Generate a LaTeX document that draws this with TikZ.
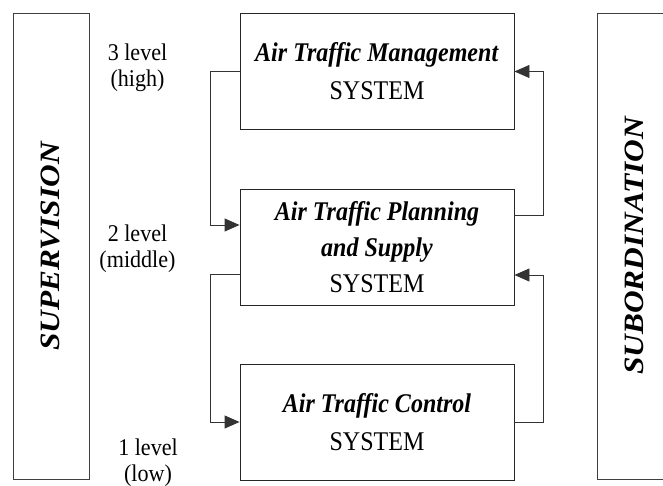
\documentclass[tikz,border=0pt]{standalone}
\usepackage{fontspec}
\setmainfont{Liberation Serif}
\newfontfamily\boxfont[FakeStretch=0.89]{Liberation Serif}
\newfontfamily\sidefont[FakeStretch=1.12]{Liberation Serif}
\newfontfamily\lvlfont[FakeStretch=0.92]{Liberation Serif}
\usepackage{tikz}
\usetikzlibrary{arrows.meta,calc,positioning}

\begin{document}
\begin{tikzpicture}[x=1pt,y=-1pt,
  sysbox/.style={draw=black!85,line width=0.9pt,minimum width=274pt,minimum height=116pt,align=center,font=\boxfont\fontsize{27}{38}\selectfont},
  sidebox/.style={draw=black!75,line width=0.9pt,minimum height=466pt},
  sidetext/.style={rotate=90,font=\sidefont\fontsize{28}{30}\selectfont\bfseries\itshape},
  lvl/.style={align=center,font=\lvlfont\fontsize{24}{26}\selectfont},
  link/.style={draw=black!80,line width=0.9pt,-{Triangle[length=15pt,width=13pt]}}]
\useasboundingbox (0,0) rectangle (663,486);
\node[sidebox,minimum width=76pt] (sup) at (51,246.5) {};
\node[sidebox,minimum width=68pt] (sub) at (631,246.5) {};
\node[sidetext] (suptext) at (50,246.5) {SUPERVISION};
\node[sidetext] (subtext) at (634,246) {SUBORDINATION};
\node[sysbox] (atm) at (377,71.5) {\textbf{\textit{Air Traffic Management}}\\SYSTEM};
\node[sysbox,font=\boxfont\fontsize{27}{36}\selectfont] (atp) at (377,247) {\textbf{\textit{Air Traffic Planning}}\\\textbf{\textit{and Supply}}\\SYSTEM};
\node[sysbox] (atc) at (377,422) {\textbf{\textit{Air Traffic Control}}\\SYSTEM};
\node[lvl] (l3) at (137.5,68) {3 level\\(high)};
\node[lvl] (l2) at (137.5,249) {2 level\\(middle)};
\node[lvl] (l1) at (148,463) {1 level\\(low)};
% supervision side
\draw[link] (atm.west) -- ++(-29,0) |- ([yshift=22pt]atp.west);
\draw[link] ([yshift=-27pt]atp.west) -- ++(-29,0) |- (atc.west);
% subordination side
\draw[link] ([yshift=32pt]atp.east) -- ++(29,0) |- (atm.east);
\draw[link] (atc.east) -- ++(29,0) |- ([yshift=-28pt]atp.east);
\end{tikzpicture}
\end{document}
